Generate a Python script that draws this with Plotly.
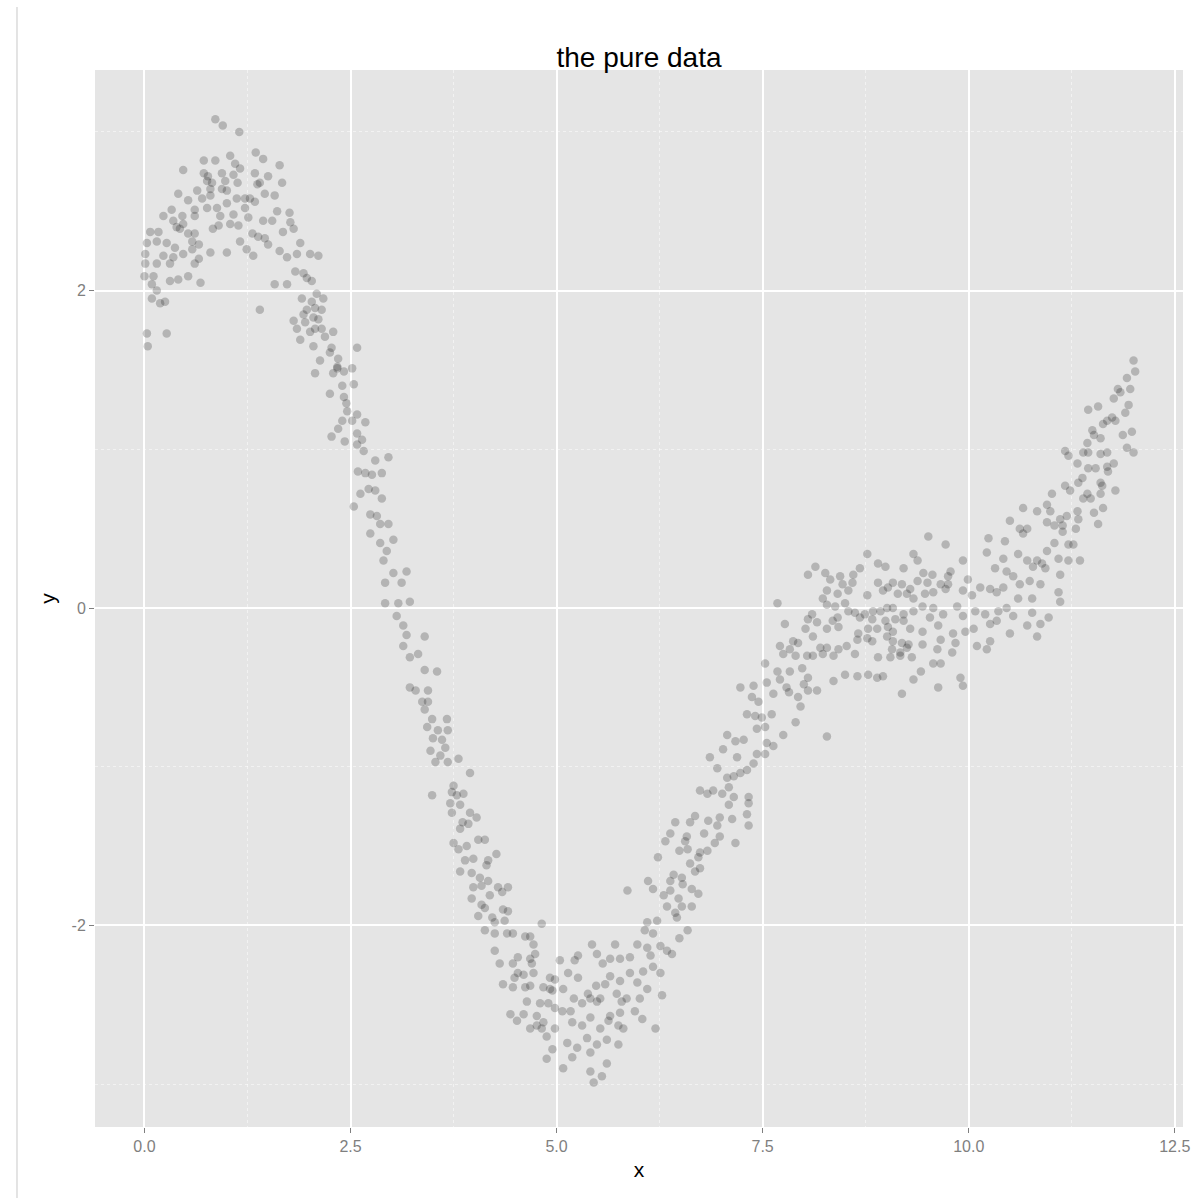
import plotly.graph_objects as go

# (x, y) points, grouped by region of the curve
peak_pts = [
    (0.86, 3.08), (0.95, 3.04), (1.15, 3.00), (1.35, 2.87), (1.44, 2.83), (1.04, 2.85), (1.64, 2.79),
    (0.72, 2.82), (0.86, 2.82), (0.47, 2.76), (1.10, 2.80), (1.16, 2.77), (0.72, 2.74), (0.77, 2.72),
    (0.94, 2.74), (1.08, 2.73), (1.34, 2.74), (1.50, 2.72), (0.76, 2.69), (0.82, 2.68), (0.98, 2.69),
    (1.13, 2.68), (1.37, 2.67), (1.40, 2.68), (1.67, 2.68), (0.64, 2.63), (0.80, 2.64), (0.94, 2.64),
    (1.00, 2.63), (0.41, 2.61), (1.46, 2.61), (1.58, 2.60), (0.53, 2.57), (0.70, 2.58), (0.80, 2.60),
    (1.12, 2.58), (1.22, 2.58), (1.28, 2.58), (1.34, 2.56), (0.33, 2.51), (0.61, 2.51), (0.76, 2.52),
    (0.88, 2.52), (1.00, 2.55), (1.22, 2.52), (1.61, 2.50), (1.76, 2.49), (0.23, 2.47), (0.46, 2.47),
    (0.61, 2.47), (0.92, 2.47), (1.08, 2.48), (1.26, 2.46), (1.44, 2.44), (1.55, 2.44), (0.35, 2.44),
    (0.47, 2.42), (1.04, 2.42), (0.90, 2.41), (1.77, 2.43), (0.39, 2.40), (0.43, 2.39), (0.83, 2.39),
    (1.14, 2.41), (1.68, 2.37), (1.81, 2.39), (0.07, 2.37), (0.17, 2.37), (0.53, 2.36), (0.61, 2.36),
    (1.31, 2.36), (1.38, 2.34), (0.03, 2.30), (0.15, 2.31), (0.27, 2.30), (0.58, 2.31), (0.66, 2.29),
    (1.46, 2.33), (1.50, 2.29), (1.89, 2.30), (0.37, 2.27), (0.58, 2.26), (1.16, 2.31), (1.00, 2.24),
    (1.24, 2.26), (1.64, 2.25), (1.73, 2.21), (1.85, 2.23), (2.01, 2.23), (2.11, 2.22), (0.01, 2.23),
    (0.23, 2.22), (0.47, 2.23), (0.35, 2.21), (0.80, 2.24), (1.32, 2.22), (0.01, 2.17), (0.15, 2.17),
    (0.31, 2.17), (0.66, 2.20), (0.61, 2.17), (1.83, 2.12), (1.93, 2.11), (0.00, 2.09), (0.11, 2.09),
    (0.31, 2.06), (0.41, 2.07), (0.53, 2.09), (0.68, 2.05), (1.97, 2.08), (2.03, 2.06), (1.58, 2.04),
    (1.73, 2.04), (0.09, 2.04), (0.15, 2.00), (0.09, 1.95), (0.19, 1.92), (0.25, 1.93), (1.91, 1.95),
    (2.03, 1.93), (2.09, 1.98), (2.17, 1.95), (1.40, 1.88), (1.81, 1.81), (1.93, 1.85), (1.97, 1.88),
    (2.07, 1.89), (2.15, 1.88), (1.95, 1.80), (2.05, 1.83), (2.11, 1.82), (1.85, 1.76), (2.01, 1.74),
    (2.07, 1.76), (2.15, 1.76), (2.19, 1.71), (1.89, 1.69), (0.03, 1.73), (0.27, 1.73), (0.04, 1.65),
    (2.05, 1.65),
]

descent_pts = [
    (2.58, 1.64), (2.34, 1.51), (2.45, 1.29), (2.74, 0.59), (2.86, 0.53), (2.25, 1.61), (2.59, 0.86),
    (2.68, 0.85), (2.76, 0.84), (2.88, 0.85), (2.80, 0.93), (2.96, 0.95), (2.62, 0.72), (2.72, 0.75),
    (2.80, 0.74), (2.88, 0.69), (2.54, 0.64), (2.82, 0.58), (2.96, 0.53), (2.58, 1.22), (2.68, 1.17),
    (2.52, 1.18), (2.40, 1.18), (2.35, 1.13), (2.27, 1.08), (2.43, 1.05), (2.58, 1.10), (2.64, 1.06),
    (2.58, 1.03), (2.66, 0.99), (2.25, 1.35), (2.42, 1.33), (2.54, 1.41), (2.40, 1.40), (2.46, 1.24),
    (2.07, 1.48), (2.29, 1.48), (2.42, 1.49), (2.52, 1.51), (2.34, 1.52), (2.35, 1.57), (2.27, 1.64),
    (2.13, 1.56), (2.29, 1.74),
    (2.74, 0.47), (2.86, 0.41), (3.02, 0.43), (2.94, 0.36), (2.90, 0.30), (3.02, 0.22), (3.18, 0.23),
    (2.92, 0.16), (3.12, 0.16), (2.92, 0.03), (3.08, 0.03), (3.22, 0.04), (3.06, -0.05), (3.14, -0.11),
    (3.18, -0.17), (3.40, -0.18), (3.14, -0.24), (3.32, -0.29), (3.22, -0.31), (3.40, -0.39),
    (3.55, -0.40), (3.22, -0.50), (3.29, -0.52), (3.44, -0.52), (3.37, -0.59), (3.44, -0.59),
    (3.40, -0.64), (3.49, -0.70), (3.67, -0.70), (3.43, -0.75), (3.56, -0.77), (3.68, -0.77),
    (3.50, -0.82), (3.61, -0.83), (3.65, -0.88), (3.47, -0.90), (3.59, -0.93), (3.81, -0.95),
    (3.53, -0.97), (3.68, -0.97), (3.95, -1.04), (3.75, -1.12), (3.49, -1.18), (3.73, -1.16),
    (3.79, -1.18), (3.87, -1.17),
    (3.71, -1.23), (3.83, -1.24), (3.73, -1.29), (3.95, -1.29), (4.03, -1.32), (3.86, -1.35),
    (3.83, -1.39), (3.93, -1.36), (4.05, -1.46), (4.13, -1.46), (3.75, -1.48), (3.81, -1.52),
    (3.91, -1.50), (4.27, -1.55), (3.89, -1.59), (3.99, -1.58), (4.17, -1.59), (4.15, -1.62),
    (3.83, -1.66), (3.97, -1.67), (4.07, -1.70), (4.17, -1.72), (3.99, -1.76), (4.09, -1.75),
    (4.29, -1.76), (4.41, -1.76), (4.34, -1.79), (4.19, -1.81), (3.97, -1.83), (4.09, -1.87),
    (4.13, -1.89), (4.35, -1.90), (4.41, -1.91), (4.05, -1.94), (4.22, -1.95), (4.25, -1.98),
    (4.37, -1.97), (4.13, -2.03), (4.25, -2.05), (4.40, -2.05), (4.47, -2.05), (4.25, -2.16),
    (4.31, -2.24), (4.53, -2.20), (4.47, -2.24), (4.53, -2.30), (4.49, -2.33), (4.35, -2.37),
    (4.47, -2.39), (4.44, -2.56), (4.52, -2.60),
]

trough_pts = [
    (4.82, -1.99), (5.43, -2.12), (5.71, -2.12), (5.49, -2.18), (5.26, -2.19), (5.04, -2.22),
    (5.22, -2.22), (5.56, -2.24), (5.65, -2.21), (5.77, -2.21), (5.89, -2.20), (5.98, -2.12),
    (6.10, -1.98), (6.22, -1.97), (6.34, -1.88), (6.44, -1.92), (6.64, -1.88), (6.59, -2.03),
    (6.49, -2.08), (6.34, -2.16), (6.40, -2.18), (6.17, -2.05), (6.10, -2.14), (6.14, -2.19),
    (6.17, -2.26), (6.26, -2.30), (6.28, -2.44), (5.89, -2.30), (5.98, -2.36), (6.05, -2.29),
    (6.10, -2.40), (6.01, -2.46), (5.95, -2.54), (6.04, -2.59), (6.20, -2.65), (5.77, -2.35),
    (5.65, -2.32), (5.59, -2.37), (5.48, -2.38), (5.73, -2.43), (5.85, -2.46), (5.79, -2.48),
    (5.65, -2.57), (5.77, -2.55), (5.75, -2.63), (5.81, -2.65), (5.53, -2.46), (5.49, -2.48),
    (5.41, -2.46), (5.31, -2.49), (5.17, -2.54), (5.21, -2.46), (5.07, -2.54), (4.98, -2.52),
    (4.98, -2.34), (5.08, -2.40), (4.92, -2.40), (5.14, -2.30), (5.26, -2.33), (5.38, -2.43),
    (5.31, -2.63), (5.19, -2.61), (5.41, -2.58), (5.53, -2.65), (5.63, -2.60), (5.61, -2.72),
    (5.49, -2.75), (5.41, -2.80), (5.37, -2.71), (5.75, -2.75), (5.25, -2.77), (5.13, -2.74),
    (5.19, -2.83), (5.08, -2.90), (5.41, -2.92), (5.55, -2.95), (5.45, -2.99), (5.61, -2.87),
    (4.95, -2.78), (4.88, -2.84), (4.82, -2.65), (4.68, -2.65), (4.60, -2.56), (4.76, -2.57),
    (4.64, -2.48), (4.80, -2.49), (4.68, -2.38), (4.84, -2.39), (4.72, -2.30), (4.60, -2.31),
    (4.72, -2.12), (4.62, -2.07), (4.74, -2.18), (4.92, -2.33), (4.98, -2.65), (4.68, -2.07),
    (4.62, -2.39), (4.76, -2.63), (4.84, -2.61), (4.88, -2.70), (4.90, -2.49), (4.95, -2.41),
    (4.70, -2.24), (4.68, -2.21), (6.52, -1.88), (6.46, -1.95), (6.07, -2.03), (6.26, -2.13),
]

ascent_pts = [
    (7.53, -0.35), (7.68, -0.40), (7.23, -0.50), (7.39, -0.49), (7.55, -0.47), (7.63, -0.54),
    (7.37, -0.56), (7.45, -0.59), (7.31, -0.67), (7.41, -0.68), (7.49, -0.69), (7.61, -0.67),
    (7.43, -0.76), (7.53, -0.75), (7.07, -0.80), (7.17, -0.84), (7.27, -0.83), (7.55, -0.85),
    (7.63, -0.87), (7.02, -0.89), (7.19, -0.94), (6.86, -0.94), (7.43, -0.92), (7.53, -0.92),
    (6.95, -1.01), (7.31, -1.02), (7.39, -0.98), (7.07, -1.07), (7.15, -1.06), (7.23, -1.04),
    (7.09, -1.13), (6.74, -1.15), (6.83, -1.17), (6.90, -1.15), (7.01, -1.17), (7.15, -1.19),
    (7.33, -1.19), (7.09, -1.24), (7.33, -1.23), (7.31, -1.30), (6.68, -1.31), (6.62, -1.35),
    (6.84, -1.34), (6.98, -1.32), (7.13, -1.33), (6.95, -1.37), (7.33, -1.37), (6.44, -1.35),
    (6.38, -1.42), (6.58, -1.44), (6.79, -1.42), (6.98, -1.44), (6.32, -1.47), (6.56, -1.47),
    (6.92, -1.48), (7.17, -1.48), (6.49, -1.53), (6.59, -1.52), (6.74, -1.54), (6.83, -1.53),
    (6.72, -1.57), (6.23, -1.57), (6.62, -1.61), (6.74, -1.64), (6.68, -1.66), (6.11, -1.72),
    (6.38, -1.72), (6.52, -1.70), (6.42, -1.68), (6.17, -1.77), (6.53, -1.74), (6.64, -1.77),
    (6.72, -1.80), (5.86, -1.78), (6.30, -1.81), (6.38, -1.78), (6.48, -1.83),
]

plateau_pts = [
    (8.77, 0.34), (9.33, 0.34), (8.90, 0.28), (8.99, 0.26), (9.21, 0.25), (8.14, 0.26), (8.68, 0.25),
    (8.05, 0.21), (8.26, 0.22), (8.32, 0.18), (8.60, 0.21), (8.44, 0.20), (8.47, 0.15), (8.59, 0.16),
    (8.90, 0.16), (9.08, 0.16), (9.19, 0.15), (9.02, 0.13), (8.96, 0.11), (9.29, 0.12), (8.54, 0.11),
    (8.41, 0.09), (8.28, 0.11), (8.23, 0.06), (7.68, 0.03), (8.77, 0.08), (9.14, 0.09), (9.25, 0.09),
    (9.33, 0.06), (8.28, 0.02), (8.38, 0.01), (8.50, 0.03), (8.54, -0.02), (8.84, -0.02), (8.93, -0.02),
    (9.01, 0.00), (9.08, 0.00), (9.21, -0.04), (9.33, -0.02), (8.62, -0.03), (8.68, -0.06), (8.74, -0.04),
    (8.41, -0.06), (8.35, -0.08), (8.10, -0.04), (8.05, -0.07), (8.16, -0.09), (8.83, -0.07), (8.99, -0.08),
    (9.11, -0.07), (9.21, -0.08), (7.77, -0.10), (8.02, -0.13), (8.28, -0.13), (8.42, -0.12), (8.78, -0.13),
    (8.89, -0.13), (9.02, -0.12), (9.08, -0.15), (9.29, -0.13), (8.11, -0.18), (8.66, -0.16), (8.77, -0.19),
    (8.65, -0.20), (8.83, -0.21), (9.01, -0.18), (9.08, -0.21), (9.19, -0.22), (9.27, -0.23), (7.87, -0.21),
    (7.93, -0.22), (7.71, -0.24), (7.83, -0.26), (8.20, -0.25), (8.28, -0.25), (8.42, -0.26), (8.52, -0.24),
    (9.07, -0.26), (9.17, -0.28), (9.25, -0.25), (7.75, -0.29), (7.90, -0.30), (8.04, -0.30), (8.11, -0.30),
    (8.23, -0.29), (8.36, -0.30), (8.62, -0.29), (8.90, -0.31), (9.05, -0.31), (9.17, -0.30), (9.31, -0.31),
    (7.83, -0.40), (7.98, -0.38), (8.05, -0.44), (8.50, -0.42), (8.65, -0.43), (8.78, -0.42), (8.89, -0.44),
    (8.96, -0.43), (9.33, -0.45), (7.71, -0.45), (7.79, -0.50), (8.00, -0.48), (8.36, -0.46), (7.82, -0.53),
    (8.05, -0.52), (8.16, -0.52), (9.19, -0.54), (7.93, -0.56), (7.96, -0.62), (7.90, -0.72), (7.75, -0.80),
    (8.28, -0.81),
    (9.51, 0.45), (9.72, 0.40), (10.24, 0.44), (10.22, 0.35), (9.93, 0.30), (9.38, 0.30), (9.45, 0.22),
    (9.56, 0.21), (9.78, 0.23), (9.75, 0.20), (10.32, 0.25), (9.38, 0.17), (9.50, 0.16), (9.66, 0.15),
    (9.75, 0.15), (9.99, 0.18), (10.14, 0.13), (10.26, 0.12), (9.47, 0.09), (9.57, 0.10), (9.72, 0.12),
    (9.93, 0.11), (10.04, 0.08), (10.34, 0.10), (9.44, 0.01), (9.57, 0.00), (9.69, -0.04), (9.86, 0.01),
    (9.93, -0.05), (10.08, -0.02), (10.20, -0.04), (10.36, -0.02), (9.53, -0.06), (9.63, -0.11),
    (9.81, -0.16), (9.96, -0.15), (10.06, -0.13), (10.26, -0.10), (10.34, -0.08), (9.44, -0.15),
    (9.66, -0.20), (9.84, -0.22), (10.26, -0.21), (9.44, -0.23), (10.10, -0.24), (10.22, -0.26),
    (9.62, -0.26), (9.80, -0.28), (9.42, -0.40), (9.57, -0.35), (9.66, -0.35), (9.63, -0.50),
    (9.90, -0.44), (9.93, -0.49),
]

rise_pts = [
    (12.00, 1.56), (12.02, 1.49), (11.92, 1.45), (11.81, 1.38), (11.84, 1.36), (11.96, 1.38), (11.76, 1.32),
    (11.94, 1.28), (11.90, 1.23), (11.45, 1.25), (11.57, 1.27), (11.74, 1.20), (11.68, 1.18), (11.78, 1.18),
    (11.63, 1.16), (11.98, 1.11), (11.87, 1.09), (11.50, 1.12), (11.52, 1.09), (11.60, 1.07), (11.44, 1.04),
    (11.92, 1.01), (12.00, 0.98), (11.17, 0.99), (11.21, 0.96), (11.39, 0.98), (11.45, 0.98), (11.60, 0.97),
    (11.68, 0.98), (11.32, 0.91), (11.45, 0.88), (11.54, 0.88), (11.68, 0.89), (11.76, 0.91), (11.69, 0.86),
    (11.38, 0.82), (11.33, 0.79), (11.60, 0.79), (11.62, 0.77), (11.17, 0.77), (11.23, 0.74), (11.78, 0.74),
    (11.01, 0.72), (11.44, 0.72), (11.60, 0.72), (11.39, 0.69), (11.48, 0.69), (10.95, 0.65), (10.66, 0.63),
    (10.83, 0.61), (10.99, 0.61), (11.19, 0.58), (11.32, 0.61), (11.52, 0.60), (11.63, 0.63), (10.50, 0.55),
    (11.11, 0.56), (11.33, 0.56), (10.95, 0.54), (11.04, 0.52), (11.14, 0.52), (11.57, 0.53), (10.62, 0.50),
    (10.71, 0.50), (10.66, 0.47), (11.14, 0.48), (11.30, 0.50), (10.44, 0.42), (11.04, 0.41), (11.21, 0.40),
    (11.27, 0.40), (10.95, 0.36), (10.60, 0.34), (10.71, 0.30), (10.83, 0.30), (10.89, 0.28), (11.09, 0.31),
    (11.21, 0.30), (11.35, 0.30), (10.42, 0.31), (10.78, 0.26), (10.93, 0.25), (11.11, 0.21), (10.46, 0.23),
    (10.54, 0.20), (10.62, 0.15), (10.74, 0.17), (10.87, 0.15), (10.42, 0.13), (10.60, 0.06), (10.77, 0.06),
    (11.09, 0.10), (11.11, 0.04), (10.46, 0.00), (10.77, -0.03), (10.54, -0.05), (10.97, -0.06),
    (10.87, -0.10), (10.71, -0.11), (10.50, -0.16), (10.83, -0.18),
]

x_ticks = [0, 2.5, 5, 7.5, 10, 12.5]
x_tick_labels = ["0.0", "2.5", "5.0", "7.5", "10.0", "12.5"]
x_minor = [1.25, 3.75, 6.25, 8.75, 11.25]
y_ticks = [-2, 0, 2]
y_tick_labels = ["-2", "0", "2"]
y_minor = [-3, -1, 1, 3]

all_pts = peak_pts + descent_pts + trough_pts + ascent_pts + plateau_pts + rise_pts
xs = [p[0] for p in all_pts]
ys = [p[1] for p in all_pts]

FONT = "Liberation Sans, Arial, Helvetica, sans-serif"
GREY = "#7F7F7F"

fig = go.Figure(
    go.Scatter(
        x=xs, y=ys, mode="markers",
        marker=dict(color="rgba(0,0,0,0.21)", size=8.5, line=dict(width=0)),
        hoverinfo="skip",
    )
)

axis_common = dict(
    showline=False, zeroline=False, ticks="outside", ticklen=5, tickwidth=1,
    tickcolor=GREY, gridcolor="#FFFFFF", gridwidth=2,
    tickfont=dict(family=FONT, size=16, color=GREY), automargin=False,
)

fig.update_layout(
    width=1195, height=1198, autosize=False,
    margin=dict(l=95, r=12, t=70, b=71),
    paper_bgcolor="#FFFFFF", plot_bgcolor="#E5E5E5",
    showlegend=False,
    title=dict(text="the pure data", x=0.5, xref="paper", xanchor="center",
               y=1 - 57 / 1198, yref="container", yanchor="middle",
               font=dict(family=FONT, size=28, color="#000000")),
    xaxis=dict(range=[-0.6, 12.6], tickvals=x_ticks, ticktext=x_tick_labels,
               minor=dict(tickvals=x_minor, showgrid=True, gridcolor="rgba(255,255,255,0.5)",
                          griddash="dot", gridwidth=1, ticks=""),
               title=dict(text="x", font=dict(family=FONT, size=21, color="#000000"), standoff=8),
               **axis_common),
    yaxis=dict(range=[-3.27, 3.39], tickvals=y_ticks, ticktext=y_tick_labels,
               minor=dict(tickvals=y_minor, showgrid=True, gridcolor="rgba(255,255,255,0.5)",
                          griddash="dot", gridwidth=1, ticks=""),
               title=dict(text="y", font=dict(family=FONT, size=21, color="#000000"), standoff=10),
               **axis_common),
    shapes=[dict(type="line", xref="paper", yref="paper",
                 x0=-0.0717, x1=-0.0717, y0=1.0596, y1=-0.0672,
                 line=dict(color="#C8C8C8", width=1))],
)

fig.write_html("out.html")
